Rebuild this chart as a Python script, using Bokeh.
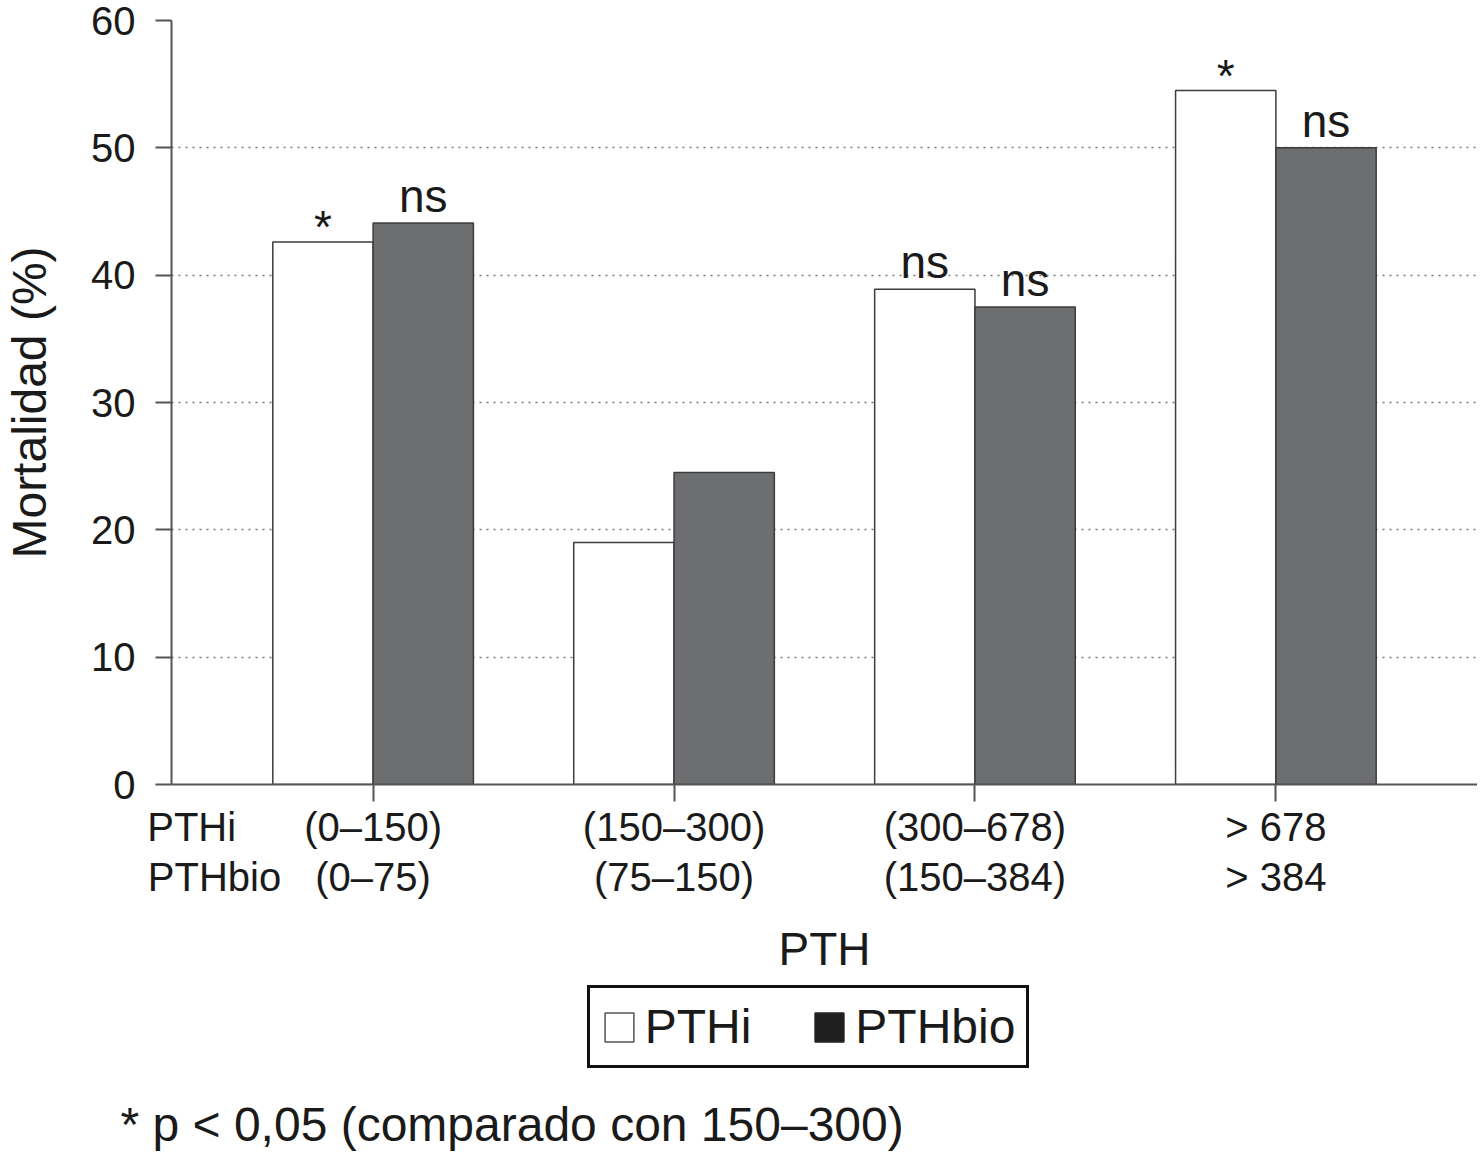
from bokeh.plotting import figure
from bokeh.models import (Range1d, FixedTicker, Legend, LegendItem, ColumnDataSource,
                          LinearAxis, Title)
from bokeh.layouts import column
from bokeh.core.properties import value
from bokeh.embed import file_html
from bokeh.resources import INLINE

# ---- data ----
pthi_ranges = ["(0–150)", "(150–300)", "(300–678)", "> 678"]
pthbio_ranges = ["(0–75)", "(75–150)", "(150–384)", "> 384"]
mort_pthi = [42.6, 19.0, 38.9, 54.5]
mort_pthbio = [44.1, 24.5, 37.5, 50.0]
sig_pthi = ["*", "", "ns", "*"]
sig_pthbio = ["ns", "", "ns", "ns"]
y_ticks = [0, 10, 20, 30, 40, 50, 60]
series_names = ["PTHi", "PTHbio"]
x_title = "PTH"
y_title = "Mortalidad (%)"
footnote = "* p < 0,05 (comparado con 150–300)"

FONT = "Liberation Sans"
TXT = "#1a1a1a"
AX = "#555555"
FW = 1306
LEFT = 167

n = len(pthi_ranges)
idx = list(range(n))
bw = 1 / 3
x_pthi = [i - bw / 2 for i in idx]
x_pthbio = [i + bw / 2 for i in idx]
# centre positions of the row headers (text placement, data units)
hdr1_x = -0.603
hdr2_x = -0.527

p = figure(frame_width=FW, frame_height=764, output_backend="svg", toolbar_location=None,
           x_range=Range1d(-0.67, 3.67), y_range=Range1d(0, 60),
           min_border_left=LEFT, min_border_right=0, min_border_top=20, min_border_bottom=0)
p.outline_line_color = None
p.background_fill_color = "white"
p.border_fill_color = "white"

src_w = ColumnDataSource(dict(x=x_pthi, top=mort_pthi))
src_d = ColumnDataSource(dict(x=x_pthbio, top=mort_pthbio))
p.vbar(x="x", top="top", width=bw, source=src_w, fill_color="white",
       line_color="#3c3c3c", line_width=1.5)
p.vbar(x="x", top="top", width=bw, source=src_d, fill_color="#6d6e70",
       line_color="#3c3c3c", line_width=1.5)

# significance annotations
ns_x, ns_y, st_x, st_y = [], [], [], []
for xs, ys, ss in ((x_pthi, mort_pthi, sig_pthi), (x_pthbio, mort_pthbio, sig_pthbio)):
    for xv, yv, s in zip(xs, ys, ss):
        if s == "ns":
            ns_x.append(xv); ns_y.append(yv)
        elif s == "*":
            st_x.append(xv); st_y.append(yv)
p.text(x=ns_x, y=ns_y, text=["ns"] * len(ns_x), text_font=value(FONT), text_font_size="46px",
       text_align="center", text_baseline="alphabetic", y_offset=-27, text_color=TXT)
p.text(x=st_x, y=st_y, text=["*"] * len(st_x), text_font=value(FONT), text_font_size="46px",
       text_align="center", text_baseline="alphabetic", y_offset=-15, text_color=TXT)

def style(ax, size="40px"):
    ax.axis_line_color = AX
    ax.axis_line_width = 2
    ax.major_tick_line_color = AX
    ax.major_tick_line_width = 2
    ax.major_tick_in = 0
    ax.minor_tick_line_color = None
    ax.major_label_text_font = FONT
    ax.major_label_text_font_size = size
    ax.major_label_text_color = TXT
    ax.axis_label_text_font = FONT
    ax.axis_label_text_font_style = "normal"
    ax.axis_label_text_color = TXT

# main x axis: line + ticks only
xa = p.xaxis[0]
style(xa)
xa.ticker = FixedTicker(ticks=idx)
xa.major_tick_out = 17
xa.major_label_text_font_size = "0px"
xa.major_label_standoff = 9
xa.major_label_overrides = {i: "" for i in idx}

# first label row (PTHi)
xa1 = LinearAxis(ticker=FixedTicker(ticks=[hdr1_x] + idx),
                 major_label_overrides={**{hdr1_x: series_names[0]},
                                        **{i: t for i, t in zip(idx, pthi_ranges)}})
style(xa1)
xa1.axis_line_color = None
xa1.major_tick_line_color = None
xa1.major_tick_out = 0
xa1.major_label_standoff = 3
p.add_layout(xa1, "below")

# second label row (PTHbio) + axis title
xa2 = LinearAxis(ticker=FixedTicker(ticks=[hdr2_x] + idx),
                 major_label_overrides={**{hdr2_x: series_names[1]},
                                        **{i: t for i, t in zip(idx, pthbio_ranges)}})
style(xa2)
xa2.axis_line_color = None
xa2.major_tick_line_color = None
xa2.major_tick_out = 0
xa2.major_label_standoff = 3
xa2.axis_label = x_title
xa2.axis_label_text_font_size = "46px"
xa2.axis_label_standoff = 21
p.add_layout(xa2, "below")

ya = p.yaxis[0]
style(ya)
ya.ticker = FixedTicker(ticks=y_ticks)
ya.major_tick_out = 16
ya.major_label_standoff = 20
ya.axis_label = y_title
ya.axis_label_text_font_size = "48px"
ya.axis_label_standoff = 32

p.xgrid.grid_line_color = None
p.ygrid.grid_line_color = "#7a7a7a"
p.ygrid.grid_line_width = 1.5
p.ygrid.grid_line_dash = "2 5"

# ---- lower strip: legend + footnote ----
H2 = 178
p2 = figure(frame_width=FW, height=H2, output_backend="svg", toolbar_location=None,
            x_range=Range1d(0, FW), y_range=Range1d(0, 100),
            x_axis_location=None, y_axis_location=None,
            min_border_left=LEFT, min_border_right=0, min_border_top=0, min_border_bottom=0)
p2.outline_line_color = None
p2.grid.grid_line_color = None
p2.background_fill_color = "white"
p2.border_fill_color = "white"

nan = float("nan")
kw = p2.vbar(x=[nan], top=[nan], width=1, fill_color="white", line_color="#555555", line_width=1.5)
kd = p2.vbar(x=[nan], top=[nan], width=1, fill_color="#1e1e1e", line_color="#1e1e1e", line_width=1.5)

legend = Legend(items=[LegendItem(label=series_names[0], renderers=[kw]),
                       LegendItem(label=series_names[1], renderers=[kd])],
                orientation="horizontal", location=(531, 22),
                border_line_color="#111111", border_line_width=3, border_line_alpha=1.0,
                background_fill_alpha=1.0,
                label_text_font=FONT, label_text_font_size="48px", label_text_color=TXT,
                glyph_width=36, glyph_height=36, label_standoff=8, spacing=60,
                padding=11, margin=0)
p2.add_layout(legend)

p2.add_layout(Title(text=footnote, align="left", offset=-51, text_font=FONT,
                    text_font_size="48px", text_font_style="normal", text_color=TXT,
                    standoff=10), "below")

open("out.html", "w").write(file_html(column(p, p2), INLINE))
